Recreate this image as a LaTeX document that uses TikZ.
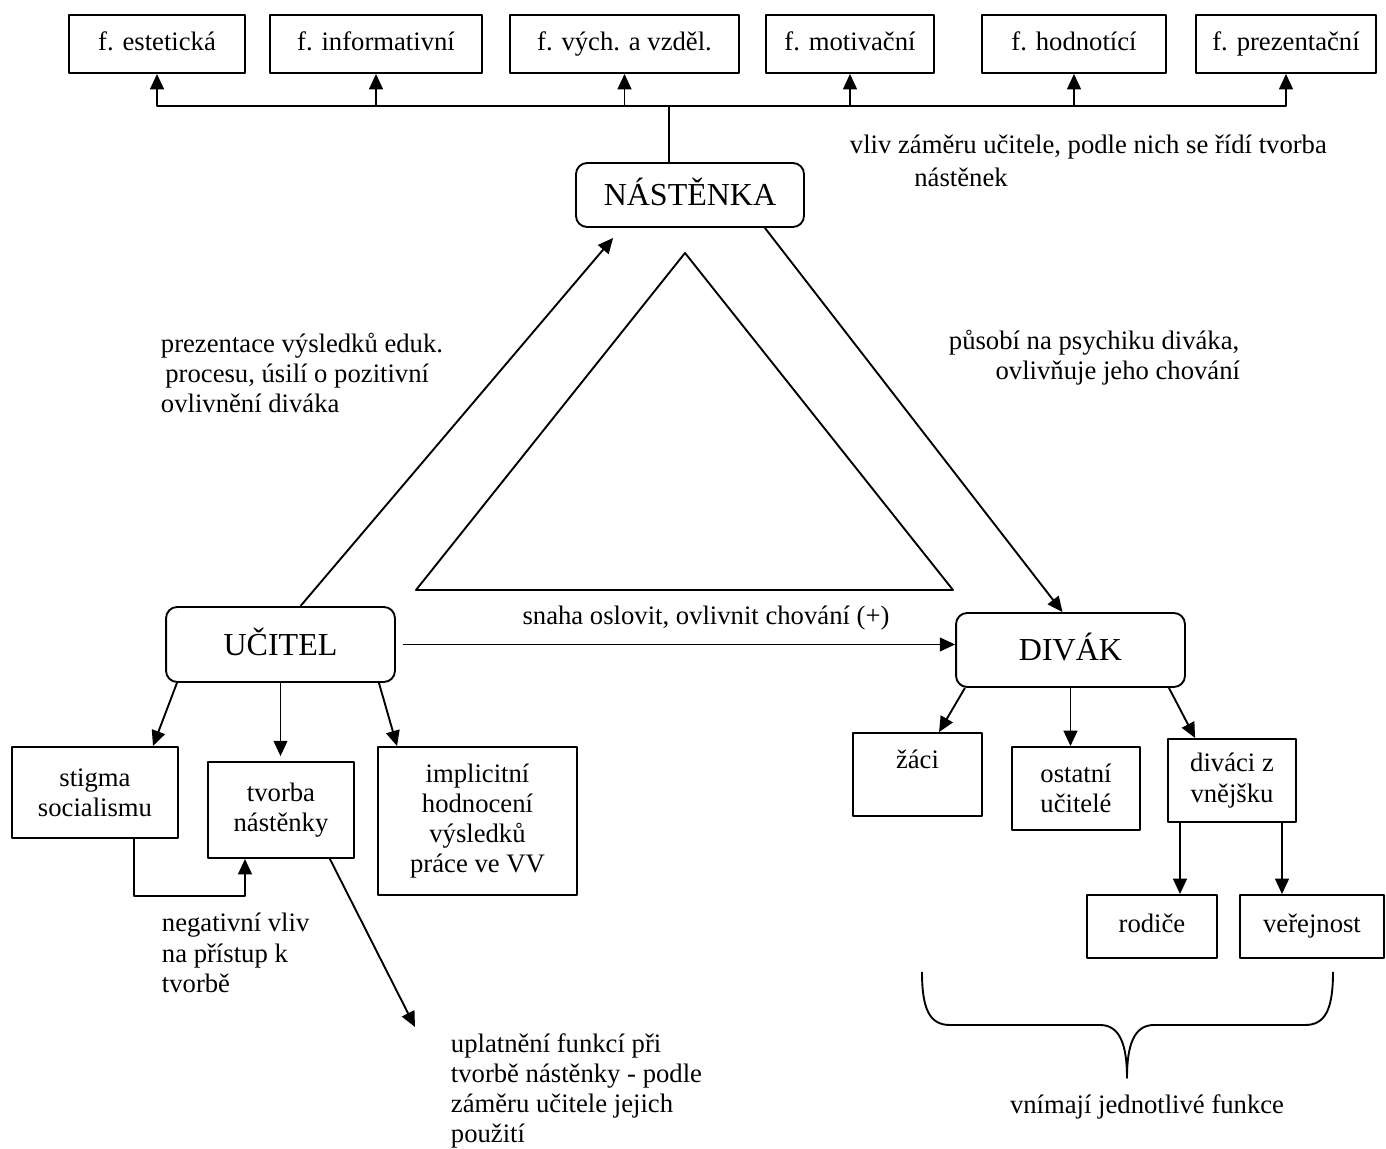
\documentclass[tikz,border=0pt]{standalone}
\usepackage{fontspec}
\setmainfont{Liberation Serif}
\usetikzlibrary{arrows.meta}

\begin{document}
\begin{tikzpicture}[x=0.45pt, y=-0.45pt, line width=0.85pt, line join=round, >={Triangle[length=6.9pt,width=6.2pt]}, font=\fontsize{12pt}{13.6pt}\selectfont]
	\tikzset{
		fbox/.style={draw, inner sep=0pt, align=center},
		fn/.style={draw, inner sep=0pt, minimum height=26.1pt, text height=8.4pt, text depth=2.6pt},
		rbox/.style={draw, rounded corners=5pt, inner sep=0pt, font=\fontsize{14.4pt}{16pt}\selectfont, text height=9.8pt, text depth=0pt},
		lbl/.style={inner sep=0pt, align=left, anchor=west}
	}
	\useasboundingbox (0,0) rectangle (1386,1149);
	% funkce
	\node[fn, minimum width=79.2pt] (f1) at (157,44) {f. estetická};
	\node[fn, minimum width=95.4pt] (f2) at (376,44) {f. informativní};
	\node[fn, minimum width=103pt] (f3) at (624.5,44) {f. vých. a vzděl.};
	\node[fn, minimum width=75.6pt] (f4) at (850,44) {f. motivační};
	\node[fn, minimum width=82.8pt] (f5) at (1074,44) {f. hodnotící};
	\node[fn, minimum width=81pt] (f6) at (1286,44) {f. prezentační};
	
	\node[rbox, minimum width=102.6pt, minimum height=28.8pt] (nas) at (690,195) {NÁSTĚNKA};
	\node[rbox, minimum width=103pt, minimum height=33.75pt] (uci) at (280.5,644.5) {UČITEL};
	\node[rbox, minimum width=103pt, minimum height=33.3pt] (div) at (1070.5,650) {DIVÁK};
	
	\coordinate (br) at (669,106);
	\draw (nas.north -| br) -- (br);
	\foreach \f in {f1,f2,f3,f4,f5,f6} \draw[->] (br) -| (\f.south);
	
	\draw (685,253) -- (416,590) -- (953,590) -- cycle;
	
	\draw[->] ([xshift=9pt]uci.north) -- ([xshift=-34.6pt,yshift=-4.5pt]nas.south);
	\draw[->] ([xshift=33.7pt]nas.south) -- ([xshift=-3.6pt]div.north);
	\draw[->] ([xshift=3pt]uci.east) -- (uci.east -| div.west);
	
	% ucitel
	\node[fbox, minimum width=75pt, minimum height=41pt] (stig) at (95,792.5) {stigma\\socialismu};
	\node[fbox, minimum width=65.7pt, minimum height=43.2pt] (tvor) at (281,810) {tvorba\\nástěnky};
	\node[fbox, minimum width=89.5pt, minimum height=66.6pt] (impl) at (477.5,821) {implicitní\\hodnocení\\výsledků\\práce ve VV};
	\coordinate (uplend) at (415,1027);
	
	\draw[->] ([xshift=-46.6pt]uci.south) -- ([xshift=26.1pt]stig.north);
	\draw[->, shorten >=2.2pt] (uci.south) -- (uci.south |- tvor.north);
	\draw[->] ([xshift=44.3pt]uci.south) -- ([xshift=-36.2pt]impl.north);
	\draw[->] ([xshift=17.5pt]stig.south) -- ++(0,57) -| ([xshift=-16.2pt]tvor.south);
	\draw[->] ([xshift=22pt]tvor.south) -- (uplend);
	
	% divak
	\node[fbox, minimum width=58pt, minimum height=37.35pt] (zaci) at (917.5,774.5) {žáci\\~};
	\node[fbox, minimum width=57.6pt, minimum height=37.35pt] (ost) at (1076,788.5) {ostatní\\učitelé};
	\node[fbox, minimum width=57.6pt, minimum height=37.35pt] (divz) at (1232,780.5) {diváci z\\vnějšku};
	\node[fn, minimum width=58.5pt, minimum height=28.35pt] (rod) at (1152,926.5) {rodiče};
	\node[fn, minimum width=64.8pt, minimum height=28.35pt] (ver) at (1312,926.5) {veřejnost};
	
	\draw[->] ([xshift=-47.5pt]div.south) -- ([xshift=9.7pt]zaci.north);
	\draw[->] (div.south) -- (div.south |- ost.north);
	\draw[->] ([xshift=44.3pt]div.south) -- ([xshift=-16.6pt]divz.north);
	\draw[->] ([xshift=-23.4pt]divz.south) -- ([xshift=-23.4pt]divz.south |- rod.north);
	\draw[->] ([xshift=22.5pt]divz.south) -- ([xshift=22.5pt]divz.south |- ver.north);
	
	\draw (922,972) .. controls (922,1010) and (930,1025) .. (950,1025) -- (1100,1025) .. controls (1120,1025) and (1127,1045) .. (1127,1078) .. controls (1127,1045) and (1134,1025) .. (1154,1025) -- (1305,1025) .. controls (1325,1025) and (1333,1010) .. (1333,972);
	
	% popisky
	\node[lbl] (vliv) at (849,161) {vliv záměru učitele, podle nich se řídí tvorba\\[1pt]\hspace*{29pt}nástěnek};
	\node[lbl] (prez) at (160,373) {prezentace výsledků eduk.\\\hspace*{2pt}procesu, úsilí o pozitivní\\ovlivnění diváka};
	\node[lbl] (psych) at (948,357.5) {působí na psychiku diváka,\\\hspace*{21pt}ovlivňuje jeho chování};
	\node[inner sep=0pt] (snaha) at (706,618) {snaha oslovit, ovlivnit chování (+)};
	\node[lbl] (negat) at (161,953) {negativní vliv\\na přístup k\\tvorbě};
	\node[lbl] (uplat) at (450,1091) {uplatnění funkcí při\\tvorbě nástěnky - podle\\záměru učitele jejich\\použití};
	\node[inner sep=0pt] (vnim) at (1147,1107) {vnímají jednotlivé funkce};
	
\end{tikzpicture}
\end{document}
